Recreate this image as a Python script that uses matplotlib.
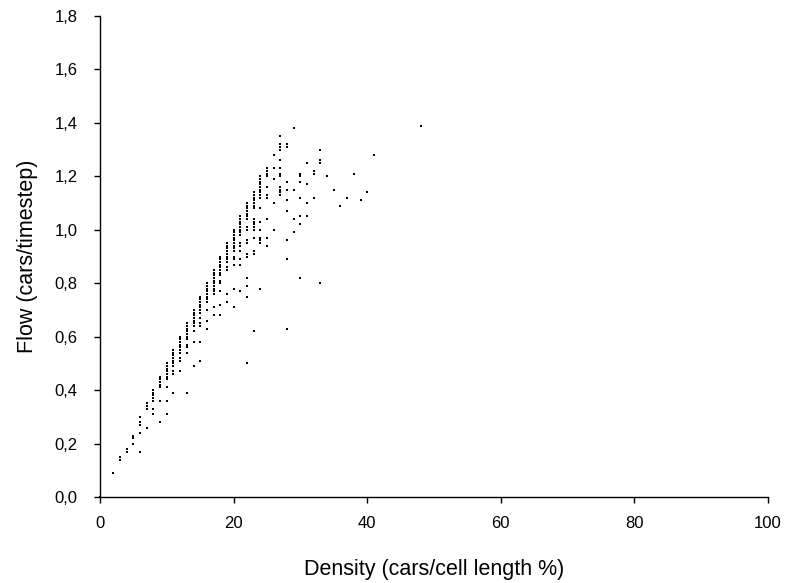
import matplotlib
matplotlib.use("Agg")
import matplotlib.pyplot as plt
from matplotlib.ticker import FuncFormatter

plt.rcParams['font.family'] = ['Liberation Sans', 'DejaVu Sans']

# Measured flow values (cars/timestep) grouped by density (cars/cell length %)
density_levels = [0, 2, 3, 4, 5, 6, 7, 8, 9, 10, 11, 12, 13, 14, 15, 16, 17, 18, 19, 20,
                  21, 22, 23, 24, 25, 26, 27, 28, 29, 30, 31, 32, 33, 34, 35, 36, 37,
                  38, 39, 40, 41, 48]

flow_by_density = [
    [0.00],
    [0.09],
    [0.14, 0.15],
    [0.17, 0.18],
    [0.20, 0.22, 0.23],
    [0.30, 0.28, 0.27, 0.24, 0.17],
    [0.35, 0.34, 0.33, 0.26],
    [0.40, 0.39, 0.38, 0.37, 0.36, 0.33, 0.31],
    [0.45, 0.44, 0.43, 0.42, 0.41, 0.36, 0.28],
    [0.50, 0.49, 0.48, 0.47, 0.46, 0.45, 0.44, 0.41, 0.36, 0.31],
    [0.55, 0.54, 0.53, 0.52, 0.51, 0.50, 0.49, 0.47, 0.46, 0.39],
    [0.60, 0.59, 0.58, 0.57, 0.56, 0.55, 0.54, 0.52, 0.51, 0.47],
    [0.65, 0.64, 0.63, 0.62, 0.61, 0.60, 0.59, 0.57, 0.56, 0.54, 0.39],
    [0.70, 0.69, 0.68, 0.67, 0.66, 0.65, 0.64, 0.62, 0.58, 0.49],
    [0.75, 0.74, 0.73, 0.72, 0.71, 0.70, 0.69, 0.67, 0.65, 0.64, 0.58, 0.51],
    [0.80, 0.79, 0.78, 0.77, 0.76, 0.75, 0.74, 0.73, 0.70, 0.66, 0.63],
    [0.85, 0.84, 0.83, 0.82, 0.81, 0.80, 0.79, 0.78, 0.77, 0.76, 0.71, 0.68],
    [0.90, 0.89, 0.88, 0.87, 0.86, 0.85, 0.84, 0.83, 0.81, 0.80, 0.77, 0.72, 0.68],
    [0.95, 0.94, 0.93, 0.92, 0.91, 0.90, 0.89, 0.88, 0.86, 0.85, 0.76, 0.73],
    [1.00, 0.99, 0.98, 0.97, 0.96, 0.95, 0.94, 0.93, 0.92, 0.90, 0.89, 0.87, 0.78, 0.71],
    [1.05, 1.04, 1.03, 1.02, 1.01, 1.00, 0.99, 0.98, 0.95, 0.94, 0.92, 0.89, 0.87, 0.77],
    [1.10, 1.09, 1.08, 1.07, 1.06, 1.05, 1.04, 1.01, 1.00, 0.96, 0.95, 0.91, 0.90,
     0.82, 0.79, 0.75, 0.50],
    [1.14, 1.13, 1.12, 1.11, 1.10, 1.09, 1.08, 1.04, 1.03, 1.02, 1.01, 1.00, 0.97,
     0.92, 0.91, 0.62],
    [1.20, 1.19, 1.18, 1.17, 1.16, 1.15, 1.14, 1.13, 1.12, 1.08, 1.03, 1.00, 0.97,
     0.96, 0.95, 0.78],
    [1.23, 1.22, 1.21, 1.20, 1.16, 1.13, 1.12, 1.04, 0.97, 0.94],
    [1.28, 1.23, 1.19, 1.10, 1.00],
    [1.35, 1.32, 1.31, 1.30, 1.26, 1.23, 1.21, 1.20, 1.16, 1.15, 1.14, 1.13],
    [1.32, 1.31, 1.18, 1.15, 1.11, 1.07, 0.96, 0.89, 0.63],
    [1.38, 1.15, 1.04, 0.99],
    [1.21, 1.20, 1.18, 1.12, 1.05, 1.02, 0.82],
    [1.25, 1.17, 1.10, 1.05],
    [1.22, 1.21, 1.12],
    [1.30, 1.26, 1.25, 0.80],
    [1.20],
    [1.15],
    [1.09],
    [1.12],
    [1.21],
    [1.11],
    [1.14],
    [1.28],
    [1.39],
]

x_ticks = [0, 20, 40, 60, 80, 100]
y_ticks = [0.0, 0.2, 0.4, 0.6, 0.8, 1.0, 1.2, 1.4, 1.6, 1.8]

density = []
flow = []
for d, flows in zip(density_levels, flow_by_density):
    for f in flows:
        density.append(d)
        flow.append(f)

fig = plt.figure(figsize=(7.89, 5.83), dpi=100)
ax = fig.add_axes([100 / 789, (583 - 497) / 583, 668 / 789, 481 / 583])

ax.scatter(density, flow, marker='s', s=3.6, c='black', linewidths=0, clip_on=False, zorder=3)

ax.set_xlim(0, 100)
ax.set_ylim(0, 1.8)
ax.set_xticks(x_ticks)
ax.set_yticks(y_ticks)
ax.yaxis.set_major_formatter(FuncFormatter(lambda v, p: f"{v:.1f}".replace('.', ',')))

for side in ('top', 'right'):
    ax.spines[side].set_visible(False)
for side in ('left', 'bottom'):
    ax.spines[side].set_linewidth(1.0)
    ax.spines[side].set_color('black')

ax.tick_params(axis='both', direction='out', length=4, width=1.0, labelsize=12,
               colors='black')
ax.tick_params(axis='x', pad=10)
ax.tick_params(axis='y', pad=12)

ax.set_xlabel('Density (cars/cell length %)', fontsize=15.5, labelpad=20)
ax.set_ylabel('Flow (cars/timestep)', fontsize=15.5, labelpad=12)

fig.savefig('out.png', dpi=100)
